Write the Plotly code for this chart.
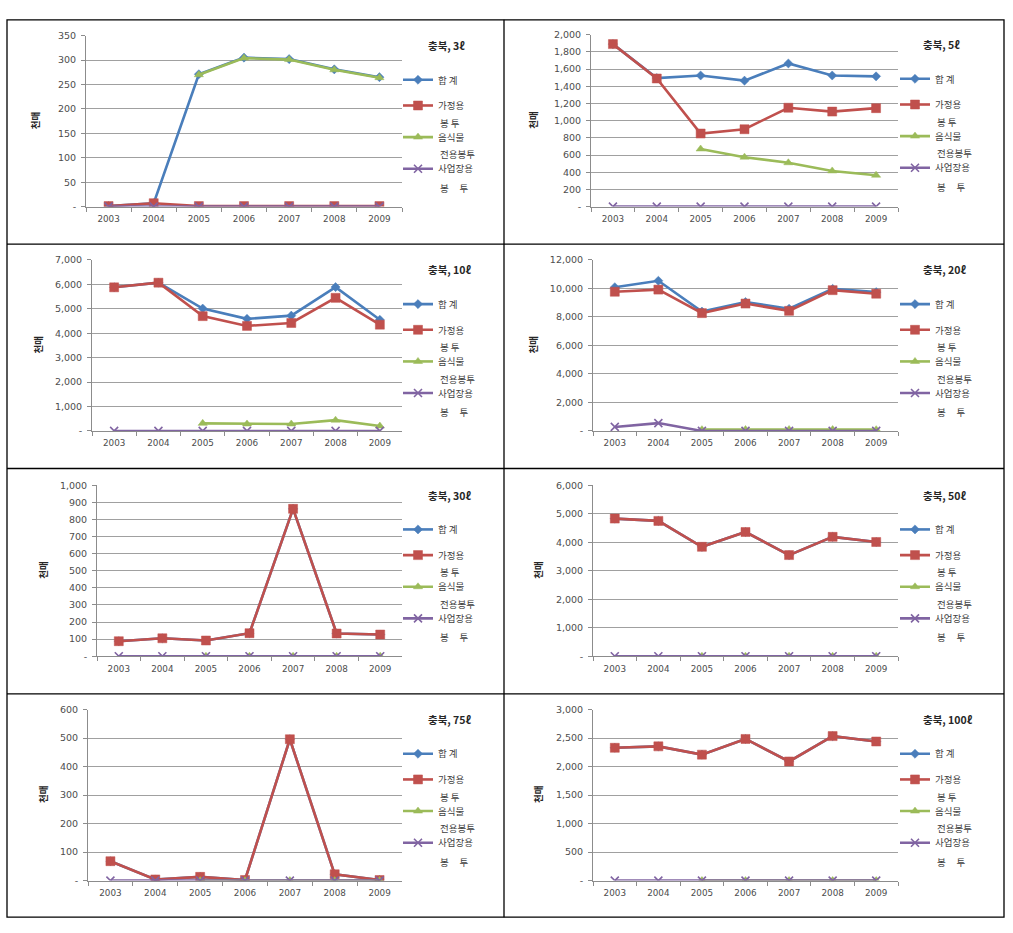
import plotly.graph_objects as go

# ---------------- data ----------------
years = ["2003", "2004", "2005", "2006", "2007", "2008", "2009"]
panel_titles = ["충북, 3ℓ", "충북, 5ℓ", "충북, 10ℓ", "충북, 20ℓ",
                "충북, 30ℓ", "충북, 50ℓ", "충북, 75ℓ", "충북, 100ℓ"]
y_unit = "천매"
series_first_line = ["합 계", "가정용", "음식물", "사업장용"]
series_second_line = [None, "봉 투", "전용봉투", "봉\u00a0\u00a0\u00a0\u00a0\u00a0투"]

# 3 L
total_3 = [1, 7, 271, 305, 302, 281, 265]
household_3 = [1, 7, 1, 1, 1, 1, 1]
food_3 = [None, None, 270, 304, 301, 280, 264]
business_3 = [0, 0, 0, 0, 0, 0, 0]
# 5 L
total_5 = [1890, 1495, 1525, 1465, 1665, 1525, 1515]
household_5 = [1890, 1490, 850, 900, 1150, 1105, 1145]
food_5 = [None, None, 670, 575, 510, 415, 365]
business_5 = [0, 0, 0, 0, 0, 0, 0]
# 10 L
total_10 = [5880, 6070, 5010, 4590, 4720, 5890, 4550]
household_10 = [5880, 6070, 4700, 4300, 4420, 5450, 4350]
food_10 = [None, None, 310, 285, 285, 440, 200]
business_10 = [0, 0, 0, 0, 0, 0, 0]
# 20 L
total_20 = [10090, 10540, 8380, 9050, 8580, 9970, 9740]
household_20 = [9770, 9920, 8270, 8940, 8430, 9880, 9630]
food_20 = [None, None, 90, 100, 100, 100, 90]
business_20 = [280, 550, 0, 0, 0, 0, 0]
# 30 L
total_30 = [88, 105, 92, 135, 862, 133, 127]
household_30 = [88, 105, 92, 135, 862, 133, 127]
food_30 = [None, None, 0, 0, 0, 0, 0]
business_30 = [0, 0, 0, 0, 0, 0, 0]
# 50 L
total_50 = [4830, 4750, 3840, 4360, 3550, 4190, 4010]
household_50 = [4830, 4750, 3840, 4360, 3550, 4190, 4010]
food_50 = [None, None, 0, 0, 0, 0, 0]
business_50 = [0, 0, 0, 0, 0, 0, 0]
# 75 L
total_75 = [68, 4, 13, 2, 496, 22, 2]
household_75 = [68, 4, 13, 2, 496, 22, 2]
food_75 = [None, None, 0, 0, 0, 0, 0]
business_75 = [0, 0, 0, 0, 0, 0, 0]
# 100 L
total_100 = [2330, 2355, 2210, 2485, 2090, 2535, 2440]
household_100 = [2330, 2355, 2210, 2485, 2090, 2535, 2440]
food_100 = [None, None, 0, 0, 0, 0, 0]
business_100 = [0, 0, 0, 0, 0, 0, 0]

y_max = [350, 2000, 7000, 12000, 1000, 6000, 600, 3000]
y_step = [50, 200, 1000, 2000, 100, 1000, 100, 500]

panels = [
    [total_3, household_3, food_3, business_3],
    [total_5, household_5, food_5, business_5],
    [total_10, household_10, food_10, business_10],
    [total_20, household_20, food_20, business_20],
    [total_30, household_30, food_30, business_30],
    [total_50, household_50, food_50, business_50],
    [total_75, household_75, food_75, business_75],
    [total_100, household_100, food_100, business_100],
]

# ---------------- styling / layout ----------------
W, H = 1013, 933
FONT = "Noto Sans CJK KR"
NUMFONT = "DejaVu Sans"


def fx(x):
    return x / W


def fy(y):
    return 1 - y / H


plot_boxes = [  # x0, x1, ytop, ybottom in px
    (86, 402, 30, 203),
    (591, 898, 29, 203),
    (92, 402, 257, 430),
    (593, 898, 257, 430),
    (97, 402, 485, 658),
    (593, 898, 485, 658),
    (88, 402, 712, 885),
    (593, 898, 712, 885),
]
ytitle_x = [35, 533, 38, 533, 43, 538, 43, 538]
legend_item_off = [50, 76, 108, 140]      # px below plot top (item centre)
legend_line2_off = [None, 88, 120, 154]   # px below plot top (annotation anchor)

colors = ["#4A7EBB", "#C0504D", "#9BBB59", "#8064A2"]
symbols = ["diamond", "square", "triangle-up", "x-thin"]
msizes = [7, 9, 8, 8]

fig = go.Figure()
annotations = []
shapes = []
layout = dict()

for i, series in enumerate(panels):
    x0, x1, yt, yb = plot_boxes[i]
    col = i % 2
    ax = "" if i == 0 else str(i + 1)
    text_x = 438 if col == 0 else 935
    title_x = 426 if col == 0 else 921
    for s, vals in enumerate(series):
        k = i * 4 + s + 1
        leg = "legend" if k == 1 else f"legend{k}"
        marker = dict(symbol=symbols[s], size=msizes[s], color=colors[s])
        if symbols[s] == "x-thin":
            marker["line"] = dict(color=colors[s], width=1.6)
        else:
            marker["line"] = dict(color=colors[s], width=0.5)
        fig.add_trace(go.Scatter(
            x=years, y=vals, mode="lines+markers",
            name=series_first_line[s],
            line=dict(color=colors[s], width=2.6),
            marker=marker,
            xaxis="x" + ax, yaxis="y" + ax,
            legend=leg, connectgaps=False,
        ))
        layout[leg] = dict(
            x=fx(text_x - 40), y=fy(yt + legend_item_off[s] - 20),
            xanchor="left", yanchor="top",
            bgcolor="rgba(0,0,0,0)", borderwidth=0,
            font=dict(family=FONT, size=9.5, color="#404040"),
            itemclick=False, itemdoubleclick=False,
        )
        if series_second_line[s]:
            annotations.append(dict(
                x=fx(text_x), y=fy(yt + legend_line2_off[s]),
                xref="paper", yref="paper",
                xanchor="left", yanchor="middle", showarrow=False,
                text=series_second_line[s],
                font=dict(family=FONT, size=9.5, color="#404040"),
            ))
    tv = list(range(0, y_max[i] + 1, y_step[i]))
    tt = ["-" if v == 0 else f"{v:,}" for v in tv]
    layout["xaxis" + ax] = dict(
        domain=[fx(x0), fx(x1)], anchor="y" + ax,
        type="category", categoryorder="array", categoryarray=years,
        range=[-0.5, 6.5], tickson="boundaries", ticks="outside", ticklen=4,
        tickcolor="#8c8c8c", showline=True, linecolor="#8c8c8c", linewidth=1,
        showgrid=False, zeroline=False, ticklabelstandoff=4,
        tickfont=dict(family=NUMFONT, size=8.8, color="#4d4d4d"), fixedrange=True,
    )
    layout["yaxis" + ax] = dict(
        domain=[fy(yb), fy(yt)], anchor="x" + ax,
        range=[0, y_max[i]], tickmode="array", tickvals=tv, ticktext=tt,
        ticks="outside", ticklen=4, tickcolor="#8c8c8c", ticklabelstandoff=3,
        showline=True, linecolor="#8c8c8c", linewidth=1,
        showgrid=True, gridcolor="#a0a0a0", gridwidth=1, zeroline=False,
        tickfont=dict(family=NUMFONT, size=9.5, color="#4d4d4d"), fixedrange=True,
    )
    # panel title
    annotations.append(dict(
        x=fx(title_x), y=fy(yt + 10), xref="paper", yref="paper",
        xanchor="left", yanchor="middle", showarrow=False,
        text=f"<b>{panel_titles[i]}</b>",
        font=dict(family=FONT, size=10.5, color="#262626"),
    ))
    # y-axis title
    annotations.append(dict(
        x=fx(ytitle_x[i]), y=fy((yt + yb) / 2), xref="paper", yref="paper",
        xanchor="center", yanchor="middle", showarrow=False, textangle=-90,
        text=f"<b>{y_unit}</b>",
        font=dict(family=FONT, size=9.5, color="#262626"),
    ))

# table borders
line_style = dict(color="black", width=1.3)
shapes.append(dict(type="rect", xref="paper", yref="paper",
                   x0=fx(7), x1=fx(1004), y0=fy(922), y1=fy(14), line=line_style))
shapes.append(dict(type="line", xref="paper", yref="paper",
                   x0=fx(504), x1=fx(504), y0=fy(922), y1=fy(14), line=line_style))
for yy in [241, 468, 696]:
    shapes.append(dict(type="line", xref="paper", yref="paper",
                       x0=fx(7), x1=fx(1004), y0=fy(yy), y1=fy(yy), line=line_style))

fig.update_layout(
    width=W, height=H, margin=dict(l=0, r=0, t=0, b=0),
    paper_bgcolor="white", plot_bgcolor="white",
    annotations=annotations, shapes=shapes, showlegend=True,
    font=dict(family=FONT),
    **layout,
)

fig.write_html(
    "out.html",
    config={"displayModeBar": False},
    post_script="document.body.style.margin='0';document.body.style.overflow='hidden';"
                "document.documentElement.style.overflow='hidden';",
)
